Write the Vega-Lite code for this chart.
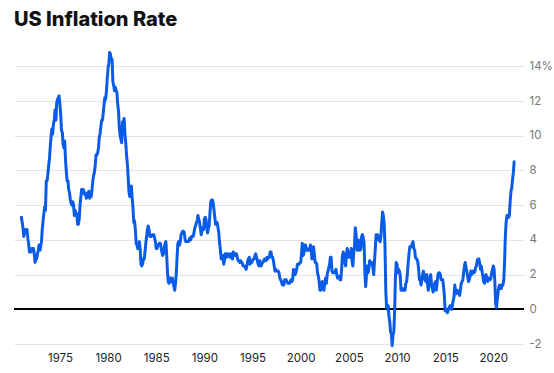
{
  "$schema": "https://vega.github.io/schema/vega-lite/v6.json",
  "autosize": "none",
  "width": 510,
  "height": 295,
  "padding": {"left": 14, "top": 49, "right": 30, "bottom": 29},
  "background": "white",
  "config": {"view": {"stroke": null}, "font": "Inter"},
  "title": {"text": "US Inflation Rate", "anchor": "start", "frame": "group", "fontSize": 20, "fontWeight": 800, "font": "Inter", "color": "#111111", "offset": 19},
  "data": {"values": [
{"d":"1971-01","v":5.3},{"d":"1971-02","v":5.0},{"d":"1971-03","v":4.7},{"d":"1971-04","v":4.2},{"d":"1971-05","v":4.4},{"d":"1971-06","v":4.6},{"d":"1971-07","v":4.4},{"d":"1971-08","v":4.6},{"d":"1971-09","v":4.1},{"d":"1971-10","v":3.8},{"d":"1971-11","v":3.3},{"d":"1971-12","v":3.3},
{"d":"1972-01","v":3.3},{"d":"1972-02","v":3.5},{"d":"1972-03","v":3.5},{"d":"1972-04","v":3.5},{"d":"1972-05","v":3.2},{"d":"1972-06","v":2.7},{"d":"1972-07","v":2.9},{"d":"1972-08","v":2.9},{"d":"1972-09","v":3.2},{"d":"1972-10","v":3.4},{"d":"1972-11","v":3.7},{"d":"1972-12","v":3.4},
{"d":"1973-01","v":3.6},{"d":"1973-02","v":3.9},{"d":"1973-03","v":4.6},{"d":"1973-04","v":5.1},{"d":"1973-05","v":5.5},{"d":"1973-06","v":5.9},{"d":"1973-07","v":5.7},{"d":"1973-08","v":7.4},{"d":"1973-09","v":7.4},{"d":"1973-10","v":7.8},{"d":"1973-11","v":8.3},{"d":"1973-12","v":8.7},
{"d":"1974-01","v":9.4},{"d":"1974-02","v":10.0},{"d":"1974-03","v":10.4},{"d":"1974-04","v":10.1},{"d":"1974-05","v":10.7},{"d":"1974-06","v":10.9},{"d":"1974-07","v":11.5},{"d":"1974-08","v":10.9},{"d":"1974-09","v":11.9},{"d":"1974-10","v":12.1},{"d":"1974-11","v":12.2},{"d":"1974-12","v":12.3},
{"d":"1975-01","v":11.8},{"d":"1975-02","v":11.2},{"d":"1975-03","v":10.3},{"d":"1975-04","v":10.2},{"d":"1975-05","v":9.5},{"d":"1975-06","v":9.3},{"d":"1975-07","v":9.7},{"d":"1975-08","v":8.6},{"d":"1975-09","v":7.9},{"d":"1975-10","v":7.4},{"d":"1975-11","v":7.4},{"d":"1975-12","v":6.9},
{"d":"1976-01","v":6.7},{"d":"1976-02","v":6.3},{"d":"1976-03","v":6.1},{"d":"1976-04","v":6.0},{"d":"1976-05","v":6.2},{"d":"1976-06","v":6.0},{"d":"1976-07","v":5.4},{"d":"1976-08","v":5.7},{"d":"1976-09","v":5.5},{"d":"1976-10","v":5.5},{"d":"1976-11","v":4.9},{"d":"1976-12","v":4.9},
{"d":"1977-01","v":5.2},{"d":"1977-02","v":6.0},{"d":"1977-03","v":6.4},{"d":"1977-04","v":6.9},{"d":"1977-05","v":6.7},{"d":"1977-06","v":6.9},{"d":"1977-07","v":6.8},{"d":"1977-08","v":6.6},{"d":"1977-09","v":6.6},{"d":"1977-10","v":6.4},{"d":"1977-11","v":6.7},{"d":"1977-12","v":6.7},
{"d":"1978-01","v":6.8},{"d":"1978-02","v":6.4},{"d":"1978-03","v":6.6},{"d":"1978-04","v":6.5},{"d":"1978-05","v":6.9},{"d":"1978-06","v":7.4},{"d":"1978-07","v":7.7},{"d":"1978-08","v":7.9},{"d":"1978-09","v":8.3},{"d":"1978-10","v":8.9},{"d":"1978-11","v":8.9},{"d":"1978-12","v":9.0},
{"d":"1979-01","v":9.3},{"d":"1979-02","v":9.9},{"d":"1979-03","v":10.1},{"d":"1979-04","v":10.5},{"d":"1979-05","v":10.9},{"d":"1979-06","v":10.9},{"d":"1979-07","v":11.3},{"d":"1979-08","v":11.8},{"d":"1979-09","v":12.2},{"d":"1979-10","v":12.1},{"d":"1979-11","v":12.6},{"d":"1979-12","v":13.3},
{"d":"1980-01","v":13.9},{"d":"1980-02","v":14.2},{"d":"1980-03","v":14.8},{"d":"1980-04","v":14.7},{"d":"1980-05","v":14.4},{"d":"1980-06","v":14.4},{"d":"1980-07","v":13.1},{"d":"1980-08","v":12.9},{"d":"1980-09","v":12.6},{"d":"1980-10","v":12.8},{"d":"1980-11","v":12.6},{"d":"1980-12","v":12.5},
{"d":"1981-01","v":11.8},{"d":"1981-02","v":11.4},{"d":"1981-03","v":10.5},{"d":"1981-04","v":10.0},{"d":"1981-05","v":9.8},{"d":"1981-06","v":9.6},{"d":"1981-07","v":10.8},{"d":"1981-08","v":10.8},{"d":"1981-09","v":11.0},{"d":"1981-10","v":10.1},{"d":"1981-11","v":9.6},{"d":"1981-12","v":8.9},
{"d":"1982-01","v":8.4},{"d":"1982-02","v":7.6},{"d":"1982-03","v":6.8},{"d":"1982-04","v":6.5},{"d":"1982-05","v":6.7},{"d":"1982-06","v":7.1},{"d":"1982-07","v":6.4},{"d":"1982-08","v":5.9},{"d":"1982-09","v":5.0},{"d":"1982-10","v":5.1},{"d":"1982-11","v":4.6},{"d":"1982-12","v":3.8},
{"d":"1983-01","v":3.7},{"d":"1983-02","v":3.5},{"d":"1983-03","v":3.6},{"d":"1983-04","v":3.9},{"d":"1983-05","v":3.5},{"d":"1983-06","v":2.6},{"d":"1983-07","v":2.5},{"d":"1983-08","v":2.6},{"d":"1983-09","v":2.9},{"d":"1983-10","v":2.9},{"d":"1983-11","v":3.3},{"d":"1983-12","v":3.8},
{"d":"1984-01","v":4.2},{"d":"1984-02","v":4.6},{"d":"1984-03","v":4.8},{"d":"1984-04","v":4.6},{"d":"1984-05","v":4.2},{"d":"1984-06","v":4.2},{"d":"1984-07","v":4.2},{"d":"1984-08","v":4.3},{"d":"1984-09","v":4.3},{"d":"1984-10","v":4.3},{"d":"1984-11","v":4.1},{"d":"1984-12","v":3.9},
{"d":"1985-01","v":3.5},{"d":"1985-02","v":3.5},{"d":"1985-03","v":3.7},{"d":"1985-04","v":3.7},{"d":"1985-05","v":3.8},{"d":"1985-06","v":3.8},{"d":"1985-07","v":3.6},{"d":"1985-08","v":3.3},{"d":"1985-09","v":3.1},{"d":"1985-10","v":3.2},{"d":"1985-11","v":3.5},{"d":"1985-12","v":3.8},
{"d":"1986-01","v":3.9},{"d":"1986-02","v":3.1},{"d":"1986-03","v":2.2},{"d":"1986-04","v":1.6},{"d":"1986-05","v":1.5},{"d":"1986-06","v":1.8},{"d":"1986-07","v":1.6},{"d":"1986-08","v":1.6},{"d":"1986-09","v":1.8},{"d":"1986-10","v":1.5},{"d":"1986-11","v":1.3},{"d":"1986-12","v":1.1},
{"d":"1987-01","v":1.5},{"d":"1987-02","v":2.1},{"d":"1987-03","v":3.0},{"d":"1987-04","v":3.8},{"d":"1987-05","v":3.9},{"d":"1987-06","v":3.7},{"d":"1987-07","v":3.9},{"d":"1987-08","v":4.3},{"d":"1987-09","v":4.4},{"d":"1987-10","v":4.5},{"d":"1987-11","v":4.5},{"d":"1987-12","v":4.4},
{"d":"1988-01","v":4.0},{"d":"1988-02","v":3.9},{"d":"1988-03","v":3.9},{"d":"1988-04","v":3.9},{"d":"1988-05","v":3.9},{"d":"1988-06","v":4.0},{"d":"1988-07","v":4.1},{"d":"1988-08","v":4.0},{"d":"1988-09","v":4.2},{"d":"1988-10","v":4.2},{"d":"1988-11","v":4.2},{"d":"1988-12","v":4.4},
{"d":"1989-01","v":4.7},{"d":"1989-02","v":4.8},{"d":"1989-03","v":5.0},{"d":"1989-04","v":5.1},{"d":"1989-05","v":5.4},{"d":"1989-06","v":5.2},{"d":"1989-07","v":5.0},{"d":"1989-08","v":4.7},{"d":"1989-09","v":4.3},{"d":"1989-10","v":4.5},{"d":"1989-11","v":4.7},{"d":"1989-12","v":4.6},
{"d":"1990-01","v":5.2},{"d":"1990-02","v":5.3},{"d":"1990-03","v":5.2},{"d":"1990-04","v":4.7},{"d":"1990-05","v":4.4},{"d":"1990-06","v":4.7},{"d":"1990-07","v":4.8},{"d":"1990-08","v":5.6},{"d":"1990-09","v":6.2},{"d":"1990-10","v":6.3},{"d":"1990-11","v":6.3},{"d":"1990-12","v":6.1},
{"d":"1991-01","v":5.7},{"d":"1991-02","v":5.3},{"d":"1991-03","v":4.9},{"d":"1991-04","v":4.9},{"d":"1991-05","v":5.0},{"d":"1991-06","v":4.7},{"d":"1991-07","v":4.4},{"d":"1991-08","v":3.8},{"d":"1991-09","v":3.4},{"d":"1991-10","v":2.9},{"d":"1991-11","v":3.0},{"d":"1991-12","v":3.1},
{"d":"1992-01","v":2.6},{"d":"1992-02","v":2.8},{"d":"1992-03","v":3.2},{"d":"1992-04","v":3.2},{"d":"1992-05","v":3.0},{"d":"1992-06","v":3.1},{"d":"1992-07","v":3.2},{"d":"1992-08","v":3.1},{"d":"1992-09","v":3.0},{"d":"1992-10","v":3.2},{"d":"1992-11","v":3.0},{"d":"1992-12","v":2.9},
{"d":"1993-01","v":3.3},{"d":"1993-02","v":3.2},{"d":"1993-03","v":3.1},{"d":"1993-04","v":3.2},{"d":"1993-05","v":3.2},{"d":"1993-06","v":3.0},{"d":"1993-07","v":2.8},{"d":"1993-08","v":2.8},{"d":"1993-09","v":2.7},{"d":"1993-10","v":2.8},{"d":"1993-11","v":2.7},{"d":"1993-12","v":2.7},
{"d":"1994-01","v":2.5},{"d":"1994-02","v":2.5},{"d":"1994-03","v":2.5},{"d":"1994-04","v":2.4},{"d":"1994-05","v":2.3},{"d":"1994-06","v":2.5},{"d":"1994-07","v":2.8},{"d":"1994-08","v":2.9},{"d":"1994-09","v":3.0},{"d":"1994-10","v":2.6},{"d":"1994-11","v":2.7},{"d":"1994-12","v":2.7},
{"d":"1995-01","v":2.8},{"d":"1995-02","v":2.9},{"d":"1995-03","v":2.9},{"d":"1995-04","v":3.1},{"d":"1995-05","v":3.2},{"d":"1995-06","v":3.0},{"d":"1995-07","v":2.8},{"d":"1995-08","v":2.6},{"d":"1995-09","v":2.5},{"d":"1995-10","v":2.8},{"d":"1995-11","v":2.6},{"d":"1995-12","v":2.5},
{"d":"1996-01","v":2.7},{"d":"1996-02","v":2.7},{"d":"1996-03","v":2.8},{"d":"1996-04","v":2.9},{"d":"1996-05","v":2.9},{"d":"1996-06","v":2.8},{"d":"1996-07","v":3.0},{"d":"1996-08","v":2.9},{"d":"1996-09","v":3.0},{"d":"1996-10","v":3.0},{"d":"1996-11","v":3.3},{"d":"1996-12","v":3.3},
{"d":"1997-01","v":3.0},{"d":"1997-02","v":3.0},{"d":"1997-03","v":2.8},{"d":"1997-04","v":2.5},{"d":"1997-05","v":2.2},{"d":"1997-06","v":2.3},{"d":"1997-07","v":2.2},{"d":"1997-08","v":2.2},{"d":"1997-09","v":2.2},{"d":"1997-10","v":2.1},{"d":"1997-11","v":1.8},{"d":"1997-12","v":1.7},
{"d":"1998-01","v":1.6},{"d":"1998-02","v":1.4},{"d":"1998-03","v":1.4},{"d":"1998-04","v":1.4},{"d":"1998-05","v":1.7},{"d":"1998-06","v":1.7},{"d":"1998-07","v":1.7},{"d":"1998-08","v":1.6},{"d":"1998-09","v":1.5},{"d":"1998-10","v":1.5},{"d":"1998-11","v":1.5},{"d":"1998-12","v":1.6},
{"d":"1999-01","v":1.7},{"d":"1999-02","v":1.6},{"d":"1999-03","v":1.7},{"d":"1999-04","v":2.3},{"d":"1999-05","v":2.1},{"d":"1999-06","v":2.0},{"d":"1999-07","v":2.1},{"d":"1999-08","v":2.3},{"d":"1999-09","v":2.6},{"d":"1999-10","v":2.6},{"d":"1999-11","v":2.6},{"d":"1999-12","v":2.7},
{"d":"2000-01","v":2.7},{"d":"2000-02","v":3.2},{"d":"2000-03","v":3.8},{"d":"2000-04","v":3.1},{"d":"2000-05","v":3.2},{"d":"2000-06","v":3.7},{"d":"2000-07","v":3.7},{"d":"2000-08","v":3.4},{"d":"2000-09","v":3.5},{"d":"2000-10","v":3.4},{"d":"2000-11","v":3.4},{"d":"2000-12","v":3.4},
{"d":"2001-01","v":3.7},{"d":"2001-02","v":3.5},{"d":"2001-03","v":2.9},{"d":"2001-04","v":3.3},{"d":"2001-05","v":3.6},{"d":"2001-06","v":3.2},{"d":"2001-07","v":2.7},{"d":"2001-08","v":2.7},{"d":"2001-09","v":2.6},{"d":"2001-10","v":2.1},{"d":"2001-11","v":1.9},{"d":"2001-12","v":1.6},
{"d":"2002-01","v":1.1},{"d":"2002-02","v":1.1},{"d":"2002-03","v":1.5},{"d":"2002-04","v":1.6},{"d":"2002-05","v":1.2},{"d":"2002-06","v":1.1},{"d":"2002-07","v":1.5},{"d":"2002-08","v":1.8},{"d":"2002-09","v":1.5},{"d":"2002-10","v":2.0},{"d":"2002-11","v":2.2},{"d":"2002-12","v":2.4},
{"d":"2003-01","v":2.6},{"d":"2003-02","v":3.0},{"d":"2003-03","v":3.0},{"d":"2003-04","v":2.2},{"d":"2003-05","v":2.1},{"d":"2003-06","v":2.1},{"d":"2003-07","v":2.1},{"d":"2003-08","v":2.2},{"d":"2003-09","v":2.3},{"d":"2003-10","v":2.0},{"d":"2003-11","v":1.8},{"d":"2003-12","v":1.9},
{"d":"2004-01","v":1.9},{"d":"2004-02","v":1.7},{"d":"2004-03","v":1.7},{"d":"2004-04","v":2.3},{"d":"2004-05","v":3.1},{"d":"2004-06","v":3.3},{"d":"2004-07","v":3.0},{"d":"2004-08","v":2.7},{"d":"2004-09","v":2.5},{"d":"2004-10","v":3.2},{"d":"2004-11","v":3.5},{"d":"2004-12","v":3.3},
{"d":"2005-01","v":3.0},{"d":"2005-02","v":3.0},{"d":"2005-03","v":3.1},{"d":"2005-04","v":3.5},{"d":"2005-05","v":2.8},{"d":"2005-06","v":2.5},{"d":"2005-07","v":3.2},{"d":"2005-08","v":3.6},{"d":"2005-09","v":4.7},{"d":"2005-10","v":4.3},{"d":"2005-11","v":3.5},{"d":"2005-12","v":3.4},
{"d":"2006-01","v":4.0},{"d":"2006-02","v":3.6},{"d":"2006-03","v":3.4},{"d":"2006-04","v":3.5},{"d":"2006-05","v":4.2},{"d":"2006-06","v":4.3},{"d":"2006-07","v":4.1},{"d":"2006-08","v":3.8},{"d":"2006-09","v":2.1},{"d":"2006-10","v":1.3},{"d":"2006-11","v":2.0},{"d":"2006-12","v":2.5},
{"d":"2007-01","v":2.1},{"d":"2007-02","v":2.4},{"d":"2007-03","v":2.8},{"d":"2007-04","v":2.6},{"d":"2007-05","v":2.7},{"d":"2007-06","v":2.7},{"d":"2007-07","v":2.4},{"d":"2007-08","v":2.0},{"d":"2007-09","v":2.8},{"d":"2007-10","v":3.5},{"d":"2007-11","v":4.3},{"d":"2007-12","v":4.1},
{"d":"2008-01","v":4.3},{"d":"2008-02","v":4.0},{"d":"2008-03","v":4.0},{"d":"2008-04","v":3.9},{"d":"2008-05","v":4.2},{"d":"2008-06","v":5.0},{"d":"2008-07","v":5.6},{"d":"2008-08","v":5.4},{"d":"2008-09","v":4.9},{"d":"2008-10","v":3.7},{"d":"2008-11","v":1.1},{"d":"2008-12","v":0.1},
{"d":"2009-01","v":0.0},{"d":"2009-02","v":0.2},{"d":"2009-03","v":-0.4},{"d":"2009-04","v":-0.7},{"d":"2009-05","v":-1.3},{"d":"2009-06","v":-1.4},{"d":"2009-07","v":-2.1},{"d":"2009-08","v":-1.5},{"d":"2009-09","v":-1.3},{"d":"2009-10","v":-0.2},{"d":"2009-11","v":1.8},{"d":"2009-12","v":2.7},
{"d":"2010-01","v":2.6},{"d":"2010-02","v":2.1},{"d":"2010-03","v":2.3},{"d":"2010-04","v":2.2},{"d":"2010-05","v":2.0},{"d":"2010-06","v":1.1},{"d":"2010-07","v":1.2},{"d":"2010-08","v":1.1},{"d":"2010-09","v":1.1},{"d":"2010-10","v":1.2},{"d":"2010-11","v":1.1},{"d":"2010-12","v":1.5},
{"d":"2011-01","v":1.6},{"d":"2011-02","v":2.1},{"d":"2011-03","v":2.7},{"d":"2011-04","v":3.2},{"d":"2011-05","v":3.6},{"d":"2011-06","v":3.6},{"d":"2011-07","v":3.6},{"d":"2011-08","v":3.8},{"d":"2011-09","v":3.9},{"d":"2011-10","v":3.5},{"d":"2011-11","v":3.4},{"d":"2011-12","v":3.0},
{"d":"2012-01","v":2.9},{"d":"2012-02","v":2.9},{"d":"2012-03","v":2.7},{"d":"2012-04","v":2.3},{"d":"2012-05","v":1.7},{"d":"2012-06","v":1.7},{"d":"2012-07","v":1.4},{"d":"2012-08","v":1.7},{"d":"2012-09","v":2.0},{"d":"2012-10","v":2.2},{"d":"2012-11","v":1.8},{"d":"2012-12","v":1.7},
{"d":"2013-01","v":1.6},{"d":"2013-02","v":2.0},{"d":"2013-03","v":1.5},{"d":"2013-04","v":1.1},{"d":"2013-05","v":1.4},{"d":"2013-06","v":1.8},{"d":"2013-07","v":2.0},{"d":"2013-08","v":1.5},{"d":"2013-09","v":1.2},{"d":"2013-10","v":1.0},{"d":"2013-11","v":1.2},{"d":"2013-12","v":1.5},
{"d":"2014-01","v":1.6},{"d":"2014-02","v":1.1},{"d":"2014-03","v":1.5},{"d":"2014-04","v":2.0},{"d":"2014-05","v":2.1},{"d":"2014-06","v":2.1},{"d":"2014-07","v":2.0},{"d":"2014-08","v":1.7},{"d":"2014-09","v":1.7},{"d":"2014-10","v":1.7},{"d":"2014-11","v":1.3},{"d":"2014-12","v":0.8},
{"d":"2015-01","v":-0.1},{"d":"2015-02","v":0.0},{"d":"2015-03","v":-0.1},{"d":"2015-04","v":-0.2},{"d":"2015-05","v":0.0},{"d":"2015-06","v":0.1},{"d":"2015-07","v":0.2},{"d":"2015-08","v":0.2},{"d":"2015-09","v":0.0},{"d":"2015-10","v":0.2},{"d":"2015-11","v":0.5},{"d":"2015-12","v":0.7},
{"d":"2016-01","v":1.4},{"d":"2016-02","v":1.0},{"d":"2016-03","v":0.9},{"d":"2016-04","v":1.1},{"d":"2016-05","v":1.0},{"d":"2016-06","v":1.0},{"d":"2016-07","v":0.8},{"d":"2016-08","v":1.1},{"d":"2016-09","v":1.5},{"d":"2016-10","v":1.6},{"d":"2016-11","v":1.7},{"d":"2016-12","v":2.1},
{"d":"2017-01","v":2.5},{"d":"2017-02","v":2.7},{"d":"2017-03","v":2.4},{"d":"2017-04","v":2.2},{"d":"2017-05","v":1.9},{"d":"2017-06","v":1.6},{"d":"2017-07","v":1.7},{"d":"2017-08","v":1.9},{"d":"2017-09","v":2.2},{"d":"2017-10","v":2.0},{"d":"2017-11","v":2.2},{"d":"2017-12","v":2.1},
{"d":"2018-01","v":2.1},{"d":"2018-02","v":2.2},{"d":"2018-03","v":2.4},{"d":"2018-04","v":2.5},{"d":"2018-05","v":2.8},{"d":"2018-06","v":2.9},{"d":"2018-07","v":2.9},{"d":"2018-08","v":2.7},{"d":"2018-09","v":2.3},{"d":"2018-10","v":2.5},{"d":"2018-11","v":2.2},{"d":"2018-12","v":1.9},
{"d":"2019-01","v":1.6},{"d":"2019-02","v":1.5},{"d":"2019-03","v":1.9},{"d":"2019-04","v":2.0},{"d":"2019-05","v":1.8},{"d":"2019-06","v":1.6},{"d":"2019-07","v":1.8},{"d":"2019-08","v":1.7},{"d":"2019-09","v":1.7},{"d":"2019-10","v":1.8},{"d":"2019-11","v":2.1},{"d":"2019-12","v":2.3},
{"d":"2020-01","v":2.5},{"d":"2020-02","v":2.3},{"d":"2020-03","v":1.5},{"d":"2020-04","v":0.3},{"d":"2020-05","v":0.1},{"d":"2020-06","v":0.6},{"d":"2020-07","v":1.0},{"d":"2020-08","v":1.3},{"d":"2020-09","v":1.4},{"d":"2020-10","v":1.2},{"d":"2020-11","v":1.2},{"d":"2020-12","v":1.4},
{"d":"2021-01","v":1.4},{"d":"2021-02","v":1.7},{"d":"2021-03","v":2.6},{"d":"2021-04","v":4.2},{"d":"2021-05","v":5.0},{"d":"2021-06","v":5.4},{"d":"2021-07","v":5.4},{"d":"2021-08","v":5.3},{"d":"2021-09","v":5.4},{"d":"2021-10","v":6.2},{"d":"2021-11","v":6.8},{"d":"2021-12","v":7.0},
{"d":"2022-01","v":7.5},{"d":"2022-02","v":7.9},{"d":"2022-03","v":8.5}
  ]},
  "layer": [
    {
      "mark": {"type": "rule", "color": "#000000", "strokeWidth": 1.2},
      "encoding": {"y": {"datum": 0, "type": "quantitative",
          "axis": {"orient": "right", "title": null, "values": [-2, 0, 2, 4, 6, 8, 10, 12, 14], "labelExpr": "datum.value == 14 ? '14%' : datum.value", "domain": false, "ticks": false, "grid": true, "gridColor": "#e4e4e4", "gridWidth": 1, "labelFont": "Inter", "labelFontSize": 11.5, "labelColor": "#777777", "labelPadding": 5, "labelAlign": "left", "labelBaseline": "middle", "labelOverlap": false}}}
    },
    {
      "mark": {"type": "line", "color": "#0a5ce6", "strokeWidth": 3, "strokeJoin": "round", "strokeCap": "round"},
      "encoding": {
        "x": {
          "field": "d", "type": "temporal",
          "scale": {"type": "utc", "domain": ["1970-03-26", "2023-03-10"], "nice": false},
          "axis": {"title": null, "format": "%Y", "formatType": "utc", "values": ["1975-01-01", "1980-01-01", "1985-01-01", "1990-01-01", "1995-01-01", "2000-01-01", "2005-01-01", "2010-01-01", "2015-01-01", "2020-01-01"], "domain": false, "ticks": false, "grid": false, "labelFont": "Inter", "labelFontSize": 11.5, "labelColor": "#222222", "labelPadding": 8, "labelFlush": false, "labelOverlap": false}
        },
        "y": {
          "field": "v", "type": "quantitative",
          "scale": {"domain": [-2, 15], "nice": false, "zero": false},
          "axis": {"orient": "right", "title": null, "values": [-2, 0, 2, 4, 6, 8, 10, 12, 14], "labelExpr": "datum.value == 14 ? '14%' : datum.value", "domain": false, "ticks": false, "grid": true, "gridColor": "#e4e4e4", "gridWidth": 1, "labelFont": "Inter", "labelFontSize": 11.5, "labelColor": "#777777", "labelPadding": 5, "labelAlign": "left", "labelBaseline": "middle", "labelOverlap": false}
        }
      }
    }
  ]
}
